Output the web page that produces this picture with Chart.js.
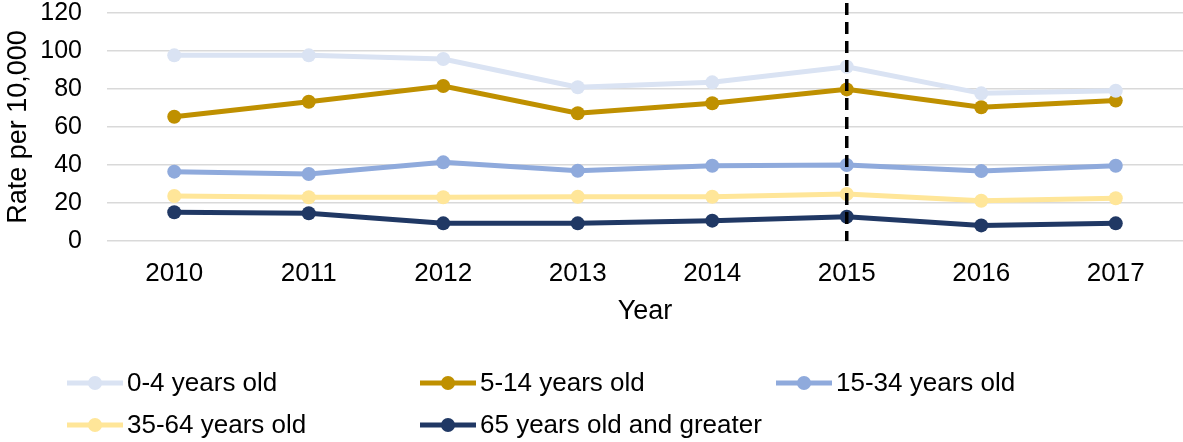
<!DOCTYPE html>
<html>
<head>
<meta charset="utf-8">
<script src="https://cdn.jsdelivr.net/npm/chart.js@4/dist/chart.umd.min.js"></script>
<style>
  html, body { margin: 0; padding: 0; background: #fff; }
  #wrap { width: 1183px; height: 442px; }
</style>
</head>
<body>
<div id="wrap"><canvas id="rateChart" width="1183" height="442"></canvas></div>
<script>
const years = ["2010", "2011", "2012", "2013", "2014", "2015", "2016", "2017"];
const seriesNames = ["0-4 years old", "5-14 years old", "15-34 years old", "35-64 years old", "65 years old and greater"];
const age0to4 = [97.7, 97.7, 95.8, 80.9, 83.5, 91.7, 77.7, 79.1];
const age5to14 = [65.4, 73.3, 81.6, 67.2, 72.5, 79.8, 70.4, 73.9];
const age15to34 = [36.5, 35.3, 41.4, 37.0, 39.6, 40.0, 36.8, 39.6];
const age35to64 = [23.7, 23.0, 23.0, 23.3, 23.3, 24.7, 21.2, 22.5];
const age65plus = [15.1, 14.6, 9.3, 9.3, 10.7, 12.8, 8.2, 9.3];
const yTicks = [0, 20, 40, 60, 80, 100, 120];
const markerYear = "2015";

const colors = ["#DAE3F3", "#BF9000", "#8FAADC", "#FFE699", "#203864"];
const allSeries = [age0to4, age5to14, age15to34, age35to64, age65plus];

const fontFamily = "'Liberation Sans', Arial, sans-serif";

// dashed vertical line at 2015
const markerLine = {
    id: "markerLine",
    afterDatasetsDraw(chart) {
        const ctx = chart.ctx;
        const x = chart.scales.x.getPixelForValue(years.indexOf(markerYear));
        const yBottom = chart.scales.y.getPixelForValue(0);
        ctx.save();
        ctx.strokeStyle = "#000";
        ctx.lineWidth = 3.5;
        ctx.setLineDash([12, 7]);
        ctx.beginPath();
        ctx.moveTo(x, 3);
        ctx.lineTo(x, yBottom);
        ctx.stroke();
        ctx.restore();
    },
};

// legend laid out in a grid like the original
const gridLegend = {
    id: "gridLegend",
    afterDraw(chart) {
        const ctx = chart.ctx;
        const cols = [67, 420, 776];
        const rows = [383, 425];
        ctx.save();
        ctx.font = "26px " + fontFamily;
        ctx.textBaseline = "middle";
        chart.data.datasets.forEach((ds, i) => {
            const x = cols[i % 3];
            const y = rows[Math.floor(i / 3)];
            ctx.strokeStyle = ds.borderColor;
            ctx.lineWidth = 5;
            ctx.beginPath();
            ctx.moveTo(x, y);
            ctx.lineTo(x + 56, y);
            ctx.stroke();
            ctx.fillStyle = ds.borderColor;
            ctx.beginPath();
            ctx.arc(x + 28, y, 7, 0, Math.PI * 2);
            ctx.fill();
            ctx.fillStyle = "#000";
            ctx.fillText(ds.label, x + 60, y + 1);
        });
        ctx.restore();
    },
};

const ctx = document.getElementById("rateChart").getContext("2d");
new Chart(ctx, {
    type: "line",
    data: {
        labels: years,
        datasets: seriesNames.map((name, i) => ({
            label: name,
            data: allSeries[i],
            borderColor: colors[i],
            backgroundColor: colors[i],
            borderWidth: 5,
            pointRadius: 7,
            pointHoverRadius: 7,
            pointBorderWidth: 0,
            tension: 0,
            clip: false,
        })),
    },
    options: {
        responsive: false,
        animation: false,
        layout: { autoPadding: false, padding: { top: 0, right: 0, bottom: 114, left: 2 } },
        plugins: {
            legend: { display: false },
            tooltip: { enabled: false },
        },
        scales: {
            x: {
                offset: true,
                grid: { display: false, drawTicks: false },
                border: { display: false },
                ticks: { color: "#000", font: { size: 26, family: fontFamily }, padding: 17, maxRotation: 0 },
                title: {
                    display: true,
                    text: "Year",
                    color: "#000",
                    font: { size: 27, family: fontFamily },
                    padding: { top: 0, bottom: 0 },
                },
                afterFit(axis) {
                    axis.height = 87;
                    axis.paddingLeft = 0;
                    axis.paddingRight = 0;
                },
            },
            y: {
                min: 0,
                max: 120,
                afterBuildTicks(axis) {
                    axis.ticks = yTicks.map((v) => ({ value: v }));
                },
                grid: { color: "#D9D9D9", lineWidth: 1.5, drawTicks: false },
                border: { display: false },
                ticks: { color: "#000", font: { size: 25, family: fontFamily }, padding: 25, autoSkip: false },
                title: {
                    display: true,
                    text: "Rate per 10,000",
                    color: "#000",
                    font: { size: 27, family: fontFamily },
                    padding: { top: 0, bottom: 0 },
                },
                afterFit(axis) {
                    axis.width = 105;
                    axis.paddingTop = 13;
                    axis.paddingBottom = 0;
                },
            },
        },
    },
    plugins: [markerLine, gridLegend],
});
</script>
</body>
</html>
